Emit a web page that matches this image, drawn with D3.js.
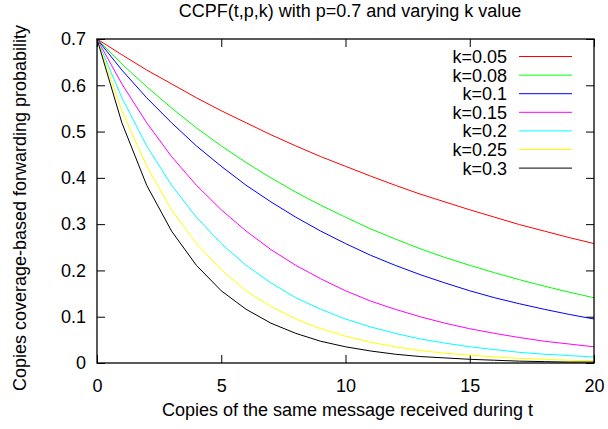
<!DOCTYPE html>
<html>
<head>
<meta charset="utf-8">
<script src="https://cdn.jsdelivr.net/npm/d3@7"></script>
<style>
  body { margin: 0; background: #fff; }
  svg text { font-family: "Liberation Sans", Arial, sans-serif; font-size: 18px; fill: #000; }
</style>
</head>
<body>
<div id="chart"></div>
<script>
// copies received (t) and CCPF values, one series per k
const tValues = [0, 1, 2, 3, 4, 5, 6, 7, 8, 9, 10, 11, 12, 13, 14, 15, 16, 17, 18, 19, 20];
const kLabels = ["k=0.05", "k=0.08", "k=0.1", "k=0.15", "k=0.2", "k=0.25", "k=0.3"];
const k005 = [0.700, 0.666, 0.633, 0.603, 0.573, 0.545, 0.519, 0.493, 0.469, 0.446, 0.425, 0.404, 0.384, 0.365, 0.348, 0.331, 0.315, 0.299, 0.285, 0.271, 0.258];
const k008 = [0.700, 0.646, 0.597, 0.551, 0.508, 0.469, 0.433, 0.400, 0.369, 0.341, 0.315, 0.290, 0.268, 0.247, 0.228, 0.211, 0.195, 0.180, 0.166, 0.153, 0.141];
const k010 = [0.700, 0.633, 0.573, 0.519, 0.469, 0.425, 0.384, 0.348, 0.315, 0.285, 0.258, 0.233, 0.211, 0.191, 0.173, 0.156, 0.141, 0.128, 0.116, 0.105, 0.095];
const k015 = [0.700, 0.603, 0.519, 0.446, 0.384, 0.331, 0.285, 0.245, 0.211, 0.182, 0.156, 0.134, 0.116, 0.100, 0.086, 0.074, 0.064, 0.055, 0.047, 0.041, 0.035];
const k020 = [0.700, 0.573, 0.469, 0.384, 0.315, 0.258, 0.211, 0.173, 0.141, 0.116, 0.095, 0.078, 0.064, 0.052, 0.043, 0.035, 0.029, 0.023, 0.019, 0.016, 0.013];
const k025 = [0.700, 0.545, 0.425, 0.331, 0.258, 0.201, 0.156, 0.122, 0.095, 0.074, 0.058, 0.045, 0.035, 0.027, 0.021, 0.017, 0.013, 0.010, 0.008, 0.006, 0.005];
const k030 = [0.700, 0.519, 0.384, 0.285, 0.211, 0.156, 0.116, 0.086, 0.064, 0.047, 0.035, 0.026, 0.019, 0.014, 0.011, 0.008, 0.006, 0.004, 0.003, 0.002, 0.002];
const seriesValues = [k005, k008, k010, k015, k020, k025, k030];
const colors = ["#ff0000", "#00ff00", "#0000ff", "#ff00ff", "#00ffff", "#ffff00", "#000000"];
const xTicks = [0, 5, 10, 15, 20];
const yTicks = [0, 0.1, 0.2, 0.3, 0.4, 0.5, 0.6, 0.7];

const width = 608, height = 429;
const margin = {top: 39, right: 14, bottom: 66, left: 97};
const plotW = width - margin.left - margin.right;
const plotH = height - margin.top - margin.bottom;

const svg = d3.select("#chart").append("svg")
  .attr("width", width)
  .attr("height", height);

const x = d3.scaleLinear().domain([0, 20]).range([margin.left, margin.left + plotW]);
const y = d3.scaleLinear().domain([0, 0.7]).range([margin.top + plotH, margin.top]);

const fmtY = d => d === 0 ? "0" : d3.format(".1f")(d);

// inward ticks on all four sides, labels only left and bottom
const g = svg.append("g");
g.append("g")
  .attr("transform", `translate(0,${y(0)})`)
  .call(d3.axisBottom(x).tickValues(xTicks).tickSize(-8).tickPadding(16).tickFormat(d3.format("d")));
g.append("g")
  .attr("transform", `translate(0,${y(0.7)})`)
  .call(d3.axisTop(x).tickValues(xTicks).tickSize(-8).tickFormat(""));
g.append("g")
  .attr("transform", `translate(${x(0)},0)`)
  .call(d3.axisLeft(y).tickValues(yTicks).tickSize(-8).tickPadding(11).tickFormat(fmtY));
g.append("g")
  .attr("transform", `translate(${x(20)},0)`)
  .call(d3.axisRight(y).tickValues(yTicks).tickSize(-8).tickFormat(""));
g.selectAll(".domain").remove();
g.selectAll(".tick line").attr("stroke", "#000");
g.selectAll(".tick text").attr("font-size", 18).attr("font-family", null);

// curves
const line = d3.line()
  .x((d, i) => x(tValues[i]))
  .y(d => y(d));

svg.append("g").selectAll("path")
  .data(seriesValues)
  .join("path")
  .attr("d", line)
  .attr("fill", "none")
  .attr("stroke", (d, i) => colors[i])
  .attr("stroke-width", 1);

// frame
svg.append("rect")
  .attr("x", x(0))
  .attr("y", y(0.7))
  .attr("width", x(20) - x(0))
  .attr("height", y(0) - y(0.7))
  .attr("fill", "none")
  .attr("stroke", "#000")
  .attr("stroke-width", 1.3);

// legend
const legend = svg.append("g").attr("transform", "translate(0,56.5)");
const rows = legend.selectAll("g")
  .data(kLabels)
  .join("g")
  .attr("transform", (d, i) => `translate(0,${i * 18.6})`);
rows.append("text")
  .attr("x", 507)
  .attr("y", 6.5)
  .attr("text-anchor", "end")
  .text(d => d);
rows.append("line")
  .attr("x1", 519).attr("x2", 572)
  .attr("y1", 0).attr("y2", 0)
  .attr("stroke", (d, i) => colors[i])
  .attr("stroke-width", 1);

// titles
svg.append("text")
  .attr("x", 350)
  .attr("y", 17)
  .attr("text-anchor", "middle")
  .text("CCPF(t,p,k) with p=0.7 and varying k value");

svg.append("text")
  .attr("x", 347.5)
  .attr("y", 416)
  .attr("text-anchor", "middle")
  .text("Copies of the same message received during t");

svg.append("text")
  .attr("transform", "translate(26,208) rotate(-90)")
  .attr("text-anchor", "middle")
  .text("Copies coverage-based forwarding probability");
</script>
</body>
</html>
